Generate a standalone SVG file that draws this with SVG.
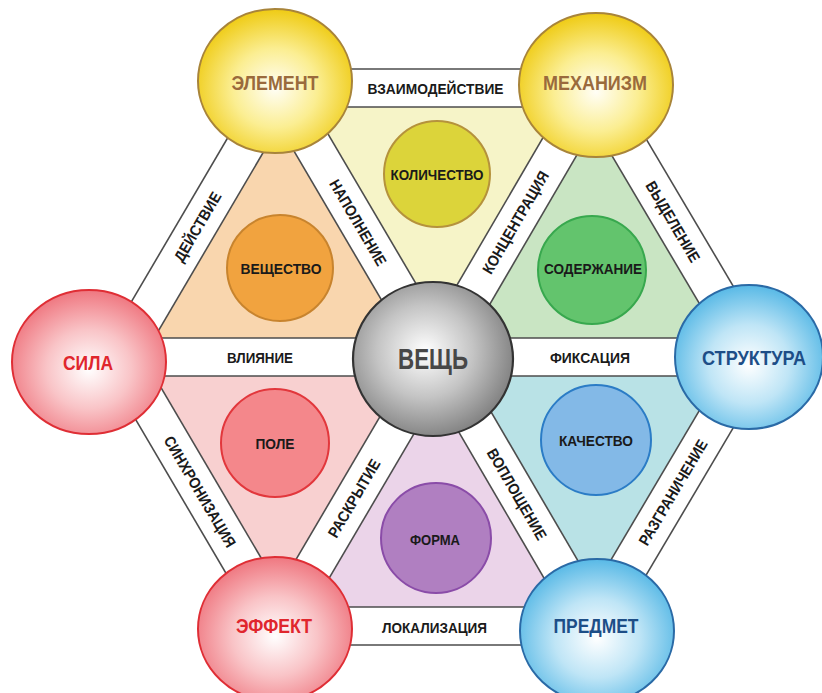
<svg xmlns="http://www.w3.org/2000/svg" width="822" height="693" viewBox="0 0 822 693">
<defs>
<radialGradient id="gY" cx="50%" cy="55%" r="55%"><stop offset="0" stop-color="#fffef6"/><stop offset="0.5" stop-color="#fbee92"/><stop offset="1" stop-color="#efcb14"/></radialGradient>
<radialGradient id="gR" cx="50%" cy="55%" r="55%"><stop offset="0" stop-color="#ffffff"/><stop offset="0.5" stop-color="#f9c4c7"/><stop offset="1" stop-color="#ef7780"/></radialGradient>
<radialGradient id="gB" cx="50%" cy="55%" r="55%"><stop offset="0" stop-color="#ffffff"/><stop offset="0.5" stop-color="#bfe5f6"/><stop offset="1" stop-color="#58b9e6"/></radialGradient>
<radialGradient id="gG" cx="45%" cy="45%" r="60%"><stop offset="0" stop-color="#ffffff"/><stop offset="0.5" stop-color="#c4c4c4"/><stop offset="1" stop-color="#7a7a7a"/></radialGradient>
</defs>
<style>
text{font-family:"Liberation Sans Narrow","Liberation Sans",Arial,sans-serif;font-weight:bold;text-anchor:middle;dominant-baseline:central}
.band{fill:#ffffff;stroke:none}
.bl{stroke:#4d4d4d;stroke-width:1.6}
.bt{font-size:15.5px;fill:#1a1a1a}
.it{font-size:15.5px;fill:#1a1a1a}
.ot{font-size:21px}
.tri{stroke:none}
</style>
<rect width="822" height="693" fill="#ffffff"/>
<g id="triangles">
<polygon class="tri" points="279,88 594,88 437,357" fill="#f6f4c8"/>
<polygon class="tri" points="121,357 279,88 437,357" fill="#f9d6ae"/>
<polygon class="tri" points="594,88 753,357 437,357" fill="#c9e5c3"/>
<polygon class="tri" points="121,357 279,626 437,357" fill="#f8d0d0"/>
<polygon class="tri" points="279,626 594,626 437,357" fill="#ebd4e9"/>
<polygon class="tri" points="753,357 594,626 437,357" fill="#b9e2e6"/>
</g>
<g id="connectors">
<g transform="translate(436.5,88)"><rect class="band" x="-158" y="-19" width="316" height="38"/><line class="bl" x1="-158" y1="-19" x2="158" y2="-19"/><line class="bl" x1="-158" y1="19" x2="158" y2="19"/><text class="bt" x="-1" y="0" textLength="136" lengthAdjust="spacingAndGlyphs">ВЗАИМОДЕЙСТВИЕ</text></g>
<g transform="translate(200,222.5) rotate(-59.56)"><rect class="band" x="-156" y="-19" width="312" height="38"/><line class="bl" x1="-156" y1="-19" x2="156" y2="-19"/><line class="bl" x1="-156" y1="19" x2="156" y2="19"/><text class="bt" x="-5" y="0" textLength="78" lengthAdjust="spacingAndGlyphs">ДЕЙСТВИЕ</text></g>
<g transform="translate(358,222.5) rotate(59.56)"><rect class="band" x="-156" y="-19" width="312" height="38"/><line class="bl" x1="-156" y1="-19" x2="156" y2="-19"/><line class="bl" x1="-156" y1="19" x2="156" y2="19"/><text class="bt" x="0" y="0" textLength="97" lengthAdjust="spacingAndGlyphs">НАПОЛНЕНИЕ</text></g>
<g transform="translate(515.5,222.5) rotate(-59.73)"><rect class="band" x="-156" y="-19" width="312" height="38"/><line class="bl" x1="-156" y1="-19" x2="156" y2="-19"/><line class="bl" x1="-156" y1="19" x2="156" y2="19"/><text class="bt" x="0" y="0" textLength="116" lengthAdjust="spacingAndGlyphs">КОНЦЕНТРАЦИЯ</text></g>
<g transform="translate(673.5,222.5) rotate(59.4)"><rect class="band" x="-156" y="-19" width="312" height="38"/><line class="bl" x1="-156" y1="-19" x2="156" y2="-19"/><line class="bl" x1="-156" y1="19" x2="156" y2="19"/><text class="bt" x="-1" y="0" textLength="91" lengthAdjust="spacingAndGlyphs">ВЫДЕЛЕНИЕ</text></g>
<g transform="translate(279,357)"><rect class="band" x="-158" y="-19" width="316" height="38"/><line class="bl" x1="-158" y1="-19" x2="158" y2="-19"/><line class="bl" x1="-158" y1="19" x2="158" y2="19"/><text class="bt" x="-19" y="0" textLength="66" lengthAdjust="spacingAndGlyphs">ВЛИЯНИЕ</text></g>
<g transform="translate(595,357)"><rect class="band" x="-158" y="-19" width="316" height="38"/><line class="bl" x1="-158" y1="-19" x2="158" y2="-19"/><line class="bl" x1="-158" y1="19" x2="158" y2="19"/><text class="bt" x="-5" y="0" textLength="80" lengthAdjust="spacingAndGlyphs">ФИКСАЦИЯ</text></g>
<g transform="translate(200,491.5) rotate(59.56)"><rect class="band" x="-156" y="-19" width="312" height="38"/><line class="bl" x1="-156" y1="-19" x2="156" y2="-19"/><line class="bl" x1="-156" y1="19" x2="156" y2="19"/><text class="bt" x="0" y="0" textLength="126" lengthAdjust="spacingAndGlyphs">СИНХРОНИЗАЦИЯ</text></g>
<g transform="translate(358,491.5) rotate(-59.56)"><rect class="band" x="-156" y="-19" width="312" height="38"/><line class="bl" x1="-156" y1="-19" x2="156" y2="-19"/><line class="bl" x1="-156" y1="19" x2="156" y2="19"/><text class="bt" x="-8" y="0" textLength="88" lengthAdjust="spacingAndGlyphs">РАСКРЫТИЕ</text></g>
<g transform="translate(515.5,491.5) rotate(59.73)"><rect class="band" x="-156" y="-19" width="312" height="38"/><line class="bl" x1="-156" y1="-19" x2="156" y2="-19"/><line class="bl" x1="-156" y1="19" x2="156" y2="19"/><text class="bt" x="3" y="0" textLength="103" lengthAdjust="spacingAndGlyphs">ВОПЛОЩЕНИЕ</text></g>
<g transform="translate(673.5,491.5) rotate(-59.4)"><rect class="band" x="-156" y="-19" width="312" height="38"/><line class="bl" x1="-156" y1="-19" x2="156" y2="-19"/><line class="bl" x1="-156" y1="19" x2="156" y2="19"/><text class="bt" x="-1" y="0" textLength="120" lengthAdjust="spacingAndGlyphs">РАЗГРАНИЧЕНИЕ</text></g>
<g transform="translate(436.5,626)"><rect class="band" x="-158" y="-19" width="316" height="38"/><line class="bl" x1="-158" y1="-19" x2="158" y2="-19"/><line class="bl" x1="-158" y1="19" x2="158" y2="19"/><text class="bt" x="-2" y="1" textLength="105" lengthAdjust="spacingAndGlyphs">ЛОКАЛИЗАЦИЯ</text></g>
</g>
<g id="inner-kolichestvo"><circle cx="437" cy="174" r="53" fill="#dcd43a" stroke="#b5923c" stroke-width="2"/><text class="it" x="437" y="174" textLength="93" lengthAdjust="spacingAndGlyphs">КОЛИЧЕСТВО</text></g>
<g id="inner-veshchestvo"><circle cx="280" cy="268" r="53" fill="#f1a33f" stroke="#c8842e" stroke-width="2"/><text class="it" x="281" y="268" textLength="81" lengthAdjust="spacingAndGlyphs">ВЕЩЕСТВО</text></g>
<g id="inner-soderzhanie"><circle cx="592" cy="270" r="54" fill="#63c46d" stroke="#38a84e" stroke-width="2"/><text class="it" x="593" y="268" textLength="98" lengthAdjust="spacingAndGlyphs">СОДЕРЖАНИЕ</text></g>
<g id="inner-pole"><circle cx="275" cy="443" r="54" fill="#f4878b" stroke="#e2373c" stroke-width="2"/><text class="it" x="275" y="443" textLength="39" lengthAdjust="spacingAndGlyphs">ПОЛЕ</text></g>
<g id="inner-forma"><circle cx="436" cy="538" r="55" fill="#b07fc1" stroke="#8a4ca8" stroke-width="2"/><text class="it" x="435" y="539" textLength="50" lengthAdjust="spacingAndGlyphs">ФОРМА</text></g>
<g id="inner-kachestvo"><circle cx="596" cy="440" r="55" fill="#83b9e7" stroke="#2b7cc6" stroke-width="2"/><text class="it" x="596" y="440" textLength="74" lengthAdjust="spacingAndGlyphs">КАЧЕСТВО</text></g>
<g id="node-element"><ellipse cx="275" cy="81" rx="77" ry="72" fill="url(#gY)" stroke="#a8843a" stroke-width="2"/><text class="ot" x="275" y="82" fill="#9a6a3c" textLength="87" lengthAdjust="spacingAndGlyphs">ЭЛЕМЕНТ</text></g>
<g id="node-mekhanizm"><ellipse cx="596" cy="85" rx="77" ry="72" fill="url(#gY)" stroke="#a8843a" stroke-width="2"/><text class="ot" x="595" y="82" fill="#9a6a3c" textLength="104" lengthAdjust="spacingAndGlyphs">МЕХАНИЗМ</text></g>
<g id="node-sila"><ellipse cx="89" cy="362" rx="77" ry="72" fill="url(#gR)" stroke="#df2e35" stroke-width="2"/><text class="ot" x="88" y="362" fill="#e0262d" textLength="50" lengthAdjust="spacingAndGlyphs">СИЛА</text></g>
<g id="node-struktura"><ellipse cx="749" cy="357" rx="74" ry="72" fill="url(#gB)" stroke="#2a6aa6" stroke-width="2"/><text class="ot" x="754" y="357" fill="#1d4e87" textLength="104" lengthAdjust="spacingAndGlyphs">СТРУКТУРА</text></g>
<g id="node-effekt"><ellipse cx="275" cy="629" rx="77" ry="72" fill="url(#gR)" stroke="#df2e35" stroke-width="2"/><text class="ot" x="274" y="625" fill="#e0262d" textLength="76" lengthAdjust="spacingAndGlyphs">ЭФФЕКТ</text></g>
<g id="node-predmet"><ellipse cx="597" cy="631" rx="77" ry="72" fill="url(#gB)" stroke="#2a6aa6" stroke-width="2"/><text class="ot" x="596" y="625" fill="#1d4e87" textLength="85" lengthAdjust="spacingAndGlyphs">ПРЕДМЕТ</text></g>
<g id="node-veshch"><ellipse cx="433" cy="359" rx="80" ry="77" fill="url(#gG)" stroke="#333333" stroke-width="2.2"/><text x="433" y="358" font-size="30" fill="#474747" textLength="70" lengthAdjust="spacingAndGlyphs">ВЕЩЬ</text></g>
</svg>
